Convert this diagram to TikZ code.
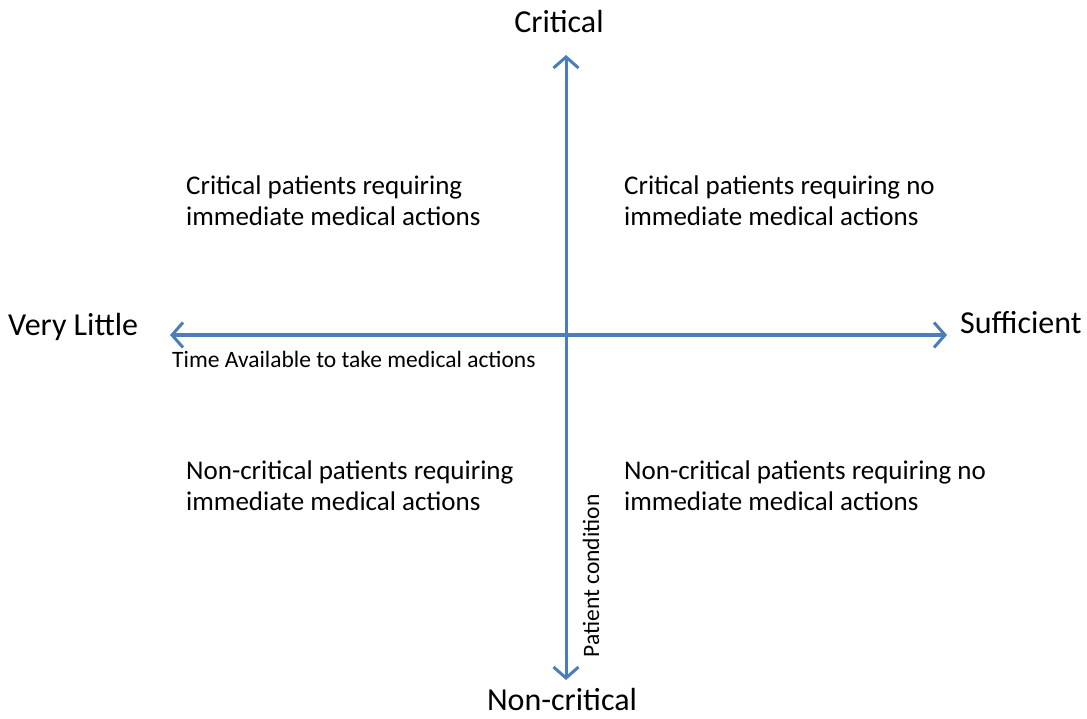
\documentclass[tikz,border=0pt]{standalone}
\usepackage{fontspec}
\setmainfont{Carlito}
\usetikzlibrary{arrows.meta, positioning}
\definecolor{axisblue}{HTML}{4A7EBB}

\begin{document}
\begin{tikzpicture}[x=1pt, y=-1pt,
  axis/.style={draw=axisblue, line width=3pt, {Straight Barb[length=11pt,width=25pt]}-{Straight Barb[length=11pt,width=25pt]}},
  endlabel/.style={font=\fontsize{32}{37}\selectfont, inner sep=0pt},
  quadtext/.style={font=\fontsize{27}{31}\selectfont, align=left, anchor=west, inner sep=0pt},
  axislabel/.style={font=\fontsize{23.5}{27}\selectfont, inner sep=0pt}]
\useasboundingbox (0,0) rectangle (1087,719);
% axes
\coordinate (top) at (566,55);
\coordinate (bottom) at (566,680);
\coordinate (left) at (170,335);
\coordinate (right) at (947,335);
\draw[axis] (bottom) -- (top);
\draw[axis] (left) -- (right);
% end labels
\node[endlabel] (critical) at (559,22) {Critical};
\node[endlabel] (noncritical) at (562,700) {Non-critical};
\node[endlabel, anchor=west] (little) at (8,327) {Very Little};
\node[endlabel, anchor=west] (sufficient) at (960,323) {Sufficient};
% axis names
\node[axislabel, anchor=west] (timelabel) at (172,359) {Time Available to take medical actions};
\node[axislabel, rotate=90] (condlabel) at (591,576) {Patient condition};
% quadrants
\node[quadtext] (q1) at (186,201) {Critical patients requiring\\immediate medical actions};
\node[quadtext] (q2) at (624,201) {Critical patients requiring no\\immediate medical actions};
\node[quadtext] (q3) at (186,486) {Non-critical patients requiring\\immediate medical actions};
\node[quadtext] (q4) at (624,486) {Non-critical patients requiring no\\immediate medical actions};
\end{tikzpicture}
\end{document}
